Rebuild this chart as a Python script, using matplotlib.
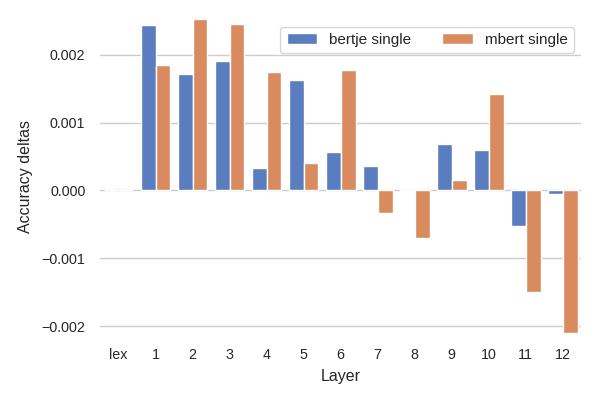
import matplotlib
matplotlib.use("Agg")
import matplotlib.pyplot as plt
import seaborn as sns
import numpy as np

layers = ["lex", "1", "2", "3", "4", "5", "6", "7", "8", "9", "10", "11", "12"]
bertje = [0.00001, 0.00244, 0.00171, 0.00191, 0.000326, 0.00162, 0.00056,
          0.00036, -0.00001, 0.000684, 0.000596, -0.000517, -0.00005]
mbert = [0.00001, 0.00185, 0.00252, 0.00245, 0.00175, 0.0004, 0.00177,
         -0.000335, -0.000703, 0.000154, 0.001415, -0.0015, -0.0021]
series = ["bertje single", "mbert single"]

sns.set_theme(style="whitegrid")
plt.rcParams["font.family"] = ["Liberation Sans", "DejaVu Sans"]
pal = sns.color_palette("muted")
colors = [sns.desaturate(pal[0], 0.75), sns.desaturate(pal[1], 0.75)]

fig = plt.figure(figsize=(6, 4), dpi=100)
ax = fig.add_axes([0.1667, 0.167, 0.969 - 0.1667, 0.952 - 0.167])
x = np.arange(len(layers))
w = 0.4
ax.bar(x - w / 2, bertje, w, color=colors[0], edgecolor="white", linewidth=1, label=series[0])
ax.bar(x + w / 2, mbert, w, color=colors[1], edgecolor="white", linewidth=1, label=series[1])
ax.set_xticks(x)
ax.set_xticklabels(layers)
ax.set_xlim(-0.5, len(layers) - 0.5)
ax.set_ylim(min(bertje + mbert), max(bertje + mbert))
ax.tick_params(axis="both", length=0, pad=10.5, labelsize=10.3, colors="#262626")
ax.set_xlabel("Layer", fontsize=11.5, color="#262626", labelpad=5)
ax.set_ylabel("Accuracy deltas", fontsize=11.5, color="#262626", labelpad=6.5)
ax.xaxis.grid(False)
ax.legend(loc="upper right", ncol=2, fontsize=11)
sns.despine(left=True, bottom=True)
fig.savefig("out.png", dpi=100)
